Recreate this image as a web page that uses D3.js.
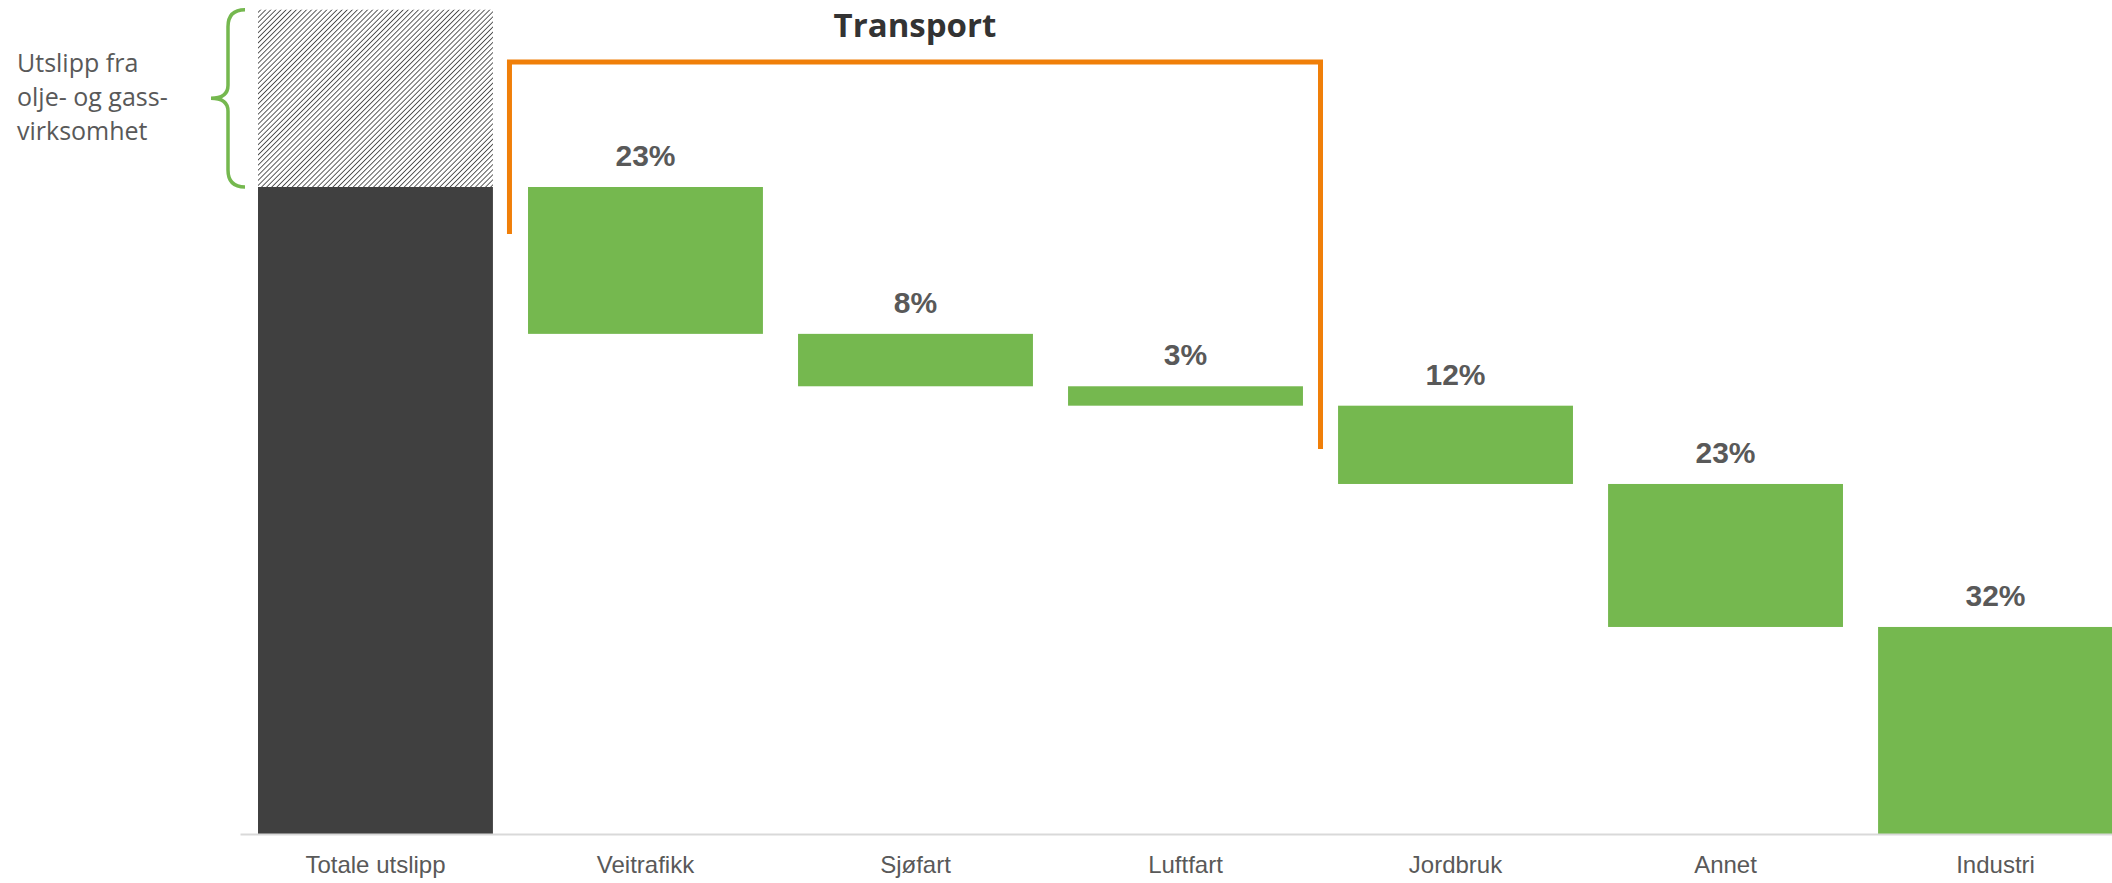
<!DOCTYPE html>
<html>
  <head>
    <meta charset="utf-8" />
    <title>Utslipp</title>
    <script src="https://d3js.org/d3.v7.min.js"></script>
    <style>
      body { margin: 0; background: #fff; }
    </style>
  </head>
  <body>
    <script>
      // data (share of national emissions excl. oil and gas, %)
      const categories = ['Totale utslipp', 'Veitrafikk', 'Sjøfart', 'Luftfart', 'Jordbruk', 'Annet', 'Industri'];
      const totalValue = 100;
      const oilGasValue = 27.4;
      const sectorValues = [22.7, 8.1, 3.0, 12.1, 22.1, 32.0];
      const sectorLabels = ['23%', '8%', '3%', '12%', '23%', '32%'];
      const transportGroup = ['Veitrafikk', 'Sjøfart', 'Luftfart'];
      const noteLines = ['Utslipp fra', 'olje- og gass-', 'virksomhet'];

      const W = 2112, H = 883;
      const green = '#75b84f', dark = '#404040', orange = '#f07f09', textGrey = '#595959';

      const svg = d3.select('body').append('svg').attr('width', W).attr('height', H);

      const defs = svg.append('defs');
      const pat = defs.append('pattern')
        .attr('id', 'hatch')
        .attr('patternUnits', 'userSpaceOnUse')
        .attr('width', 3.6)
        .attr('height', 3.6)
        .attr('patternTransform', 'rotate(45)');
      pat.append('rect').attr('width', 3.6).attr('height', 3.6).attr('fill', '#fff');
      pat.append('line').attr('x1', 0).attr('y1', 0).attr('x2', 0).attr('y2', 3.6)
        .attr('stroke', dark).attr('stroke-width', 1.7);

      const x = d3.scaleBand()
        .domain(categories)
        .range([240, 2131])
        .paddingInner(0.13)
        .paddingOuter(0.0667);

      const y = d3.scaleLinear().domain([0, totalValue]).range([834, 187]);

      // waterfall steps
      let running = totalValue;
      const steps = sectorValues.map((v, i) => {
        const top = running;
        running -= v;
        return { name: categories[i + 1], top: top, bottom: running, label: sectorLabels[i] };
      });

      // total bar + hatched oil/gas part
      svg.append('rect')
        .attr('x', x(categories[0]))
        .attr('y', y(totalValue + oilGasValue))
        .attr('width', x.bandwidth())
        .attr('height', y(totalValue) - y(totalValue + oilGasValue))
        .attr('fill', 'url(#hatch)');

      svg.append('rect')
        .attr('x', x(categories[0]))
        .attr('y', y(totalValue))
        .attr('width', x.bandwidth())
        .attr('height', y(0) - y(totalValue))
        .attr('fill', dark);

      svg.selectAll('.step')
        .data(steps)
        .enter()
        .append('rect')
        .attr('class', 'step')
        .attr('x', (d) => x(d.name))
        .attr('y', (d) => y(d.top))
        .attr('width', x.bandwidth())
        .attr('height', (d) => y(d.bottom) - y(d.top))
        .attr('fill', green);

      svg.selectAll('.val')
        .data(steps)
        .enter()
        .append('text')
        .attr('class', 'val')
        .attr('x', (d) => x(d.name) + x.bandwidth() / 2)
        .attr('y', (d) => y(d.top) - 21)
        .attr('text-anchor', 'middle')
        .style('font-family', '"Liberation Sans", Arial, sans-serif')
        .style('font-weight', 'bold')
        .style('font-size', '30px')
        .style('fill', textGrey)
        .text((d) => d.label);

      // x axis
      const axis = svg.append('g')
        .attr('transform', 'translate(0,' + y(0) + ')')
        .call(d3.axisBottom(x).tickSize(0).tickPadding(22));
      axis.select('.domain').attr('stroke', '#d9d9d9').attr('stroke-width', 2);
      axis.selectAll('text')
        .style('font-family', '"Liberation Sans", Arial, sans-serif')
        .style('font-size', '24px')
        .style('fill', textGrey);

      // transport bracket
      const gap = (x.step() - x.bandwidth()) / 2;
      const bx0 = x(transportGroup[0]) - gap - 1;
      const bx1 = x(transportGroup[transportGroup.length - 1]) + x.bandwidth() + gap;
      const byTop = 62;
      svg.append('path')
        .attr('d', 'M' + bx0 + ',' + 234 + 'V' + byTop + 'H' + bx1 + 'V' + 449)
        .attr('fill', 'none')
        .attr('stroke', orange)
        .attr('stroke-width', 5);

      svg.append('text')
        .attr('x', (bx0 + bx1) / 2)
        .attr('y', 37)
        .attr('text-anchor', 'middle')
        .style('font-family', '"Open Sans", sans-serif')
        .style('font-weight', 'bold')
        .style('font-size', '33px')
        .style('fill', '#333')
        .text('Transport');

      // curly brace for the oil and gas part
      const t = y(totalValue + oilGasValue), b = y(totalValue), m = (t + b) / 2;
      const bxR = 245, bxC = 228, bxL = 211;
      svg.append('path')
        .attr('d',
          'M' + bxR + ',' + t + 'Q' + bxC + ',' + t + ' ' + bxC + ',' + (t + 17) +
          'V' + (m - 13) + 'Q' + bxC + ',' + m + ' ' + bxL + ',' + m +
          'Q' + bxC + ',' + m + ' ' + bxC + ',' + (m + 13) +
          'V' + (b - 17) + 'Q' + bxC + ',' + b + ' ' + bxR + ',' + b)
        .attr('fill', 'none')
        .attr('stroke', green)
        .attr('stroke-width', 3.5);

      svg.append('g')
        .selectAll('text')
        .data(noteLines)
        .enter()
        .append('text')
        .attr('x', 17)
        .attr('y', (d, i) => 72 + i * 34)
        .style('font-family', '"Open Sans", sans-serif')
        .style('font-size', '25px')
        .style('fill', textGrey)
        .text((d) => d);
    </script>
  </body>
</html>
